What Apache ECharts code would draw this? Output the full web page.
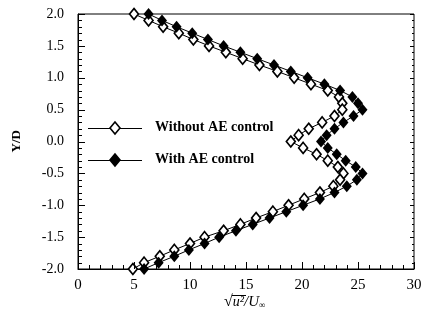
<!DOCTYPE html>
<html>
<head>
<meta charset="utf-8">
<script src="https://cdn.jsdelivr.net/npm/echarts@6/dist/echarts.min.js"></script>
<style>
html,body{margin:0;padding:0;background:#fff;}
#chart{width:426px;height:322px;}
</style>
</head>
<body>
<div id="chart"></div>
<script>
// Y/D positions (shared by both series)
var yPositions = [2.0,1.9,1.8,1.7,1.6,1.5,1.4,1.3,1.2,1.1,1.0,0.9,0.8,0.7,0.6,0.5,0.4,0.3,0.2,0.1,0.0,
  -0.1,-0.2,-0.3,-0.4,-0.5,-0.6,-0.7,-0.8,-0.9,-1.0,-1.1,-1.2,-1.3,-1.4,-1.5,-1.6,-1.7,-1.8,-1.9,-2.0];
// sqrt(u'^2)/U values
var withoutAE = [5.0,6.3,7.6,9.0,10.3,11.7,13.2,14.7,16.2,17.8,19.3,20.8,22.3,23.3,23.6,23.6,22.9,21.8,20.6,19.7,19.0,
  20.1,21.3,22.3,23.2,23.7,23.4,22.8,21.6,20.2,18.8,17.4,15.9,14.5,13.0,11.3,10.0,8.6,7.3,5.9,4.9];
var withAE = [6.3,7.5,8.8,10.2,11.6,13.0,14.5,16.0,17.5,19.0,20.5,22.0,23.4,24.5,25.0,25.4,24.6,23.7,22.9,22.2,21.7,
  22.3,23.1,23.9,24.8,25.4,24.9,24.0,22.9,21.6,20.1,18.6,17.1,15.6,14.1,12.6,11.3,9.9,8.6,7.2,5.9];
var seriesNames = ['Without AE control','With AE control'];
var xTicks = [0,5,10,15,20,25,30];
var yTicks = [-2.0,-1.5,-1.0,-0.5,0.0,0.5,1.0,1.5,2.0];
var xMinorStep = 1, yMinorCount = 5;

function pairs(xs){ return xs.map(function(v,i){ return [v, yPositions[i]]; }); }

var serif = '"Liberation Serif","DejaVu Serif",serif';
function legendRow(y, name, fill){
  return [
    {type:'line', silent:true, shape:{x1:88,y1:y+0.5,x2:142,y2:y+0.5}, style:{stroke:'#000',lineWidth:1}},
    {type:'polygon', silent:true, shape:{points:[[115,y-6],[120,y],[115,y+6],[110,y]]},
      style:{fill:fill,stroke:'#000',lineWidth:1.6}},
    {type:'text', silent:true, left:155, top:y-8, style:{text:name, font:'bold 14px ' + serif, fill:'#000'}}
  ];
}
var labelGraphics = [].concat(
  legendRow(128, seriesNames[0], '#fff'),
  legendRow(160, seriesNames[1], '#000'),
  [{
    type:'text', silent:true, left:10, top:130, rotation:Math.PI/2,
    style:{text:'Y/D', font:'bold 13px ' + serif, fill:'#000'}
  },{
    type:'text', silent:true, left:224, top:294,
    style:{
      text:'{r|√}{u|u²}{s|/U}{b|∞}',
      rich:{
        r:{font:'16px ' + serif, fill:'#000'},
        u:{font:'italic 14px ' + serif, fill:'#000'},
        s:{font:'italic 15px ' + serif, fill:'#000'},
        b:{font:'9px ' + serif, fill:'#000', verticalAlign:'bottom'}
      }
    }
  },{
    type:'line', silent:true, shape:{x1:232,y1:295.5,x2:246,y2:295.5}, style:{stroke:'#000',lineWidth:1}
  }]
);

var chart = echarts.init(document.getElementById('chart'));
chart.setOption({
  animation:false,
  backgroundColor:'#fff',
  grid:{left:78,right:12,top:14,bottom:53,show:true,borderColor:'#000',borderWidth:1,backgroundColor:'transparent'},
  xAxis:{
    type:'value', min:0, max:30, interval:5,
    axisLine:{show:true,onZero:false,lineStyle:{color:'#000'}},
    splitLine:{show:false},
    axisTick:{show:false},
    axisLabel:{color:'#000',fontFamily:serif,fontSize:15,margin:9}
  },
  yAxis:{
    type:'value', min:-2, max:2, interval:0.5,
    axisLine:{show:true,onZero:false,lineStyle:{color:'#000'}},
    splitLine:{show:false},
    axisTick:{show:false},
    axisLabel:{color:'#000',fontFamily:serif,fontSize:14,margin:14,
      formatter:function(v){return v.toFixed(1);}}
  },
  series:[{
    name:seriesNames[0], type:'line', data:pairs(withoutAE),
    symbol:'diamond', symbolSize:[9,11],
    lineStyle:{color:'#000',width:1},
    itemStyle:{color:'#fff',borderColor:'#000',borderWidth:1.6}
  },{
    name:seriesNames[1], type:'line', data:pairs(withAE),
    symbol:'diamond', symbolSize:[10,12],
    lineStyle:{color:'#000',width:1},
    itemStyle:{color:'#000'}
  }]
});

// inward tick marks, placed through the chart's own axis scales
var tickGraphics = [];
function px(pt){ return chart.convertToPixel({gridIndex:0}, pt); }
function tickLine(x1,y1,x2,y2){
  tickGraphics.push({type:'line', silent:true, z:10, shape:{x1:x1,y1:y1,x2:x2,y2:y2}, style:{stroke:'#000',lineWidth:1}});
}
for (var i = 0; i <= 30; i += xMinorStep) {
  var p = px([i, -2]);
  var xx = Math.round(p[0]) + 0.5, yy = Math.round(p[1]);
  tickLine(xx, yy, xx, yy - (xTicks.indexOf(i) >= 0 ? 7 : 4));
}
for (var j = 0; j < yTicks.length - 1; j++) {
  for (var m = 0; m <= yMinorCount; m++) {
    if (m === yMinorCount && j < yTicks.length - 2) continue;
    var v = yTicks[j] + (yTicks[j+1] - yTicks[j]) * m / yMinorCount;
    var major = (m === 0 || m === yMinorCount);
    var pl = px([0, v]), pr = px([30, v]);
    var yl = Math.round(pl[1]) + 0.5;
    tickLine(Math.round(pl[0]), yl, Math.round(pl[0]) + (major ? 7 : 4), yl);
    tickLine(Math.round(pr[0]), yl, Math.round(pr[0]) - (major ? 4 : 2), yl);
  }
}
chart.setOption({graphic: labelGraphics.concat(tickGraphics)});
</script>
</body>
</html>
